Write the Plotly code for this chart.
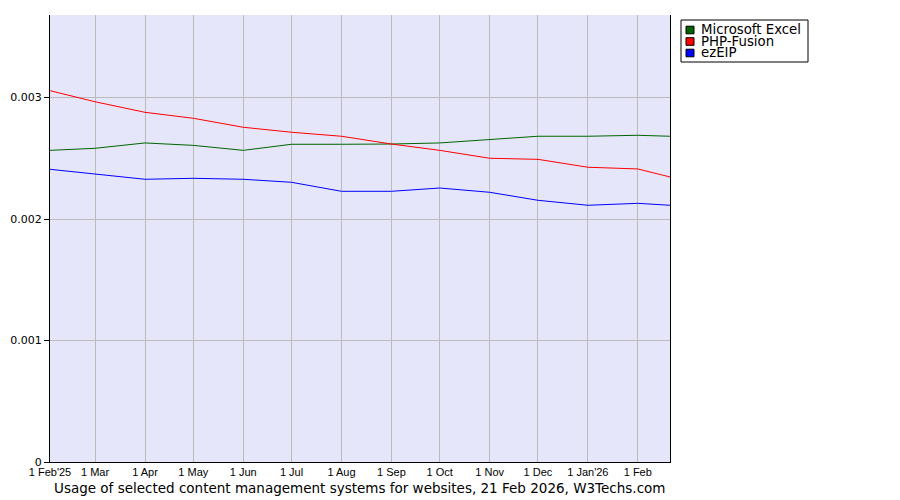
import plotly.graph_objects as go

dates = ["2025-02-01", "2025-03-01", "2025-04-01", "2025-05-01", "2025-06-01", "2025-07-01",
         "2025-08-01", "2025-09-01", "2025-10-01", "2025-11-01", "2025-12-01", "2026-01-01",
         "2026-02-01", "2026-02-21"]

excel = [0.002565, 0.002582, 0.002626, 0.002606, 0.002565, 0.002615, 0.002615,
         0.002617, 0.002626, 0.002656, 0.002681, 0.002681, 0.002689, 0.002681]
phpfusion = [0.003056, 0.002965, 0.002878, 0.002829, 0.002755, 0.002714, 0.002681,
             0.002617, 0.002565, 0.002500, 0.002491, 0.002426, 0.002412, 0.002346]
ezeip = [0.002409, 0.002368, 0.002327, 0.002335, 0.002327, 0.002302, 0.002228,
         0.002228, 0.002255, 0.002220, 0.002154, 0.002113, 0.002129, 0.002113]

series_names = ["Microsoft Excel", "PHP-Fusion", "ezEIP"]
series_colors = ["#006400", "#ff0000", "#0000ff"]

tick_dates = dates[:13]
tick_text = ["1 Feb'25", "1 Mar", "1 Apr", "1 May", "1 Jun", "1 Jul", "1 Aug", "1 Sep",
             "1 Oct", "1 Nov", "1 Dec", "1 Jan'26", "1 Feb"]
y_ticks = [0, 0.001, 0.002, 0.003]
y_text = ["0", "0.001", "0.002", "0.003"]

title_text = "Usage of selected content management systems for websites, 21 Feb 2026, W3Techs.com"

fig = go.Figure()
for name, vals, col in zip(series_names, [excel, phpfusion, ezeip], series_colors):
    fig.add_trace(go.Scatter(x=dates, y=vals, mode="lines", name=name,
                             line=dict(color=col, width=1), showlegend=False))

# page offset from default body margin
OFF = 8
FW, FH = 900 - OFF, 500 - OFF
# plot geometry (page pixels)
L, R, T, B = 50, 670, 15, 462
W, H = R - L, B - T
def px(x):
    return (x - L) / W
def py(y):
    return (B - y) / H

shapes = []
annotations = []
# legend box
shapes.append(dict(type="rect", xref="paper", yref="paper",
                   x0=px(681), x1=px(808), y0=py(62), y1=py(20),
                   line=dict(color="black", width=1), fillcolor="white", layer="above"))
for i, (name, col) in enumerate(zip(series_names, series_colors)):
    cy = 30 + i * 11.5
    shapes.append(dict(type="rect", xref="paper", yref="paper",
                       x0=px(686), x1=px(694), y0=py(cy + 3.8), y1=py(cy - 3.8),
                       line=dict(color="black", width=1), fillcolor=col, layer="above"))
    annotations.append(dict(xref="paper", yref="paper", x=px(700), y=py(cy),
                            xanchor="left", yanchor="middle", showarrow=False,
                            text=name, borderpad=0,
                            font=dict(family="DejaVu Sans", size=13.3, color="black")))

annotations.append(dict(xref="paper", yref="paper", x=px(359), y=py(488),
                        xanchor="center", yanchor="middle", showarrow=False,
                        text=title_text, font=dict(family="DejaVu Sans", size=13.5, color="black")))

fig.update_layout(
    width=FW, height=FH,
    margin=dict(l=L - OFF, r=FW - (R - OFF), t=T - OFF, b=FH - (B - OFF), pad=0,
                autoexpand=False),
    paper_bgcolor="white", plot_bgcolor="#e6e6fa",
    shapes=shapes, annotations=annotations,
    showlegend=False,
    font=dict(family="Liberation Sans", size=11, color="black"),
)
fig.update_xaxes(range=["2025-02-01", "2026-02-21"], tickmode="array",
                 tickvals=tick_dates, ticktext=tick_text,
                 showgrid=True, gridcolor="#bbbbbb", gridwidth=1,
                 showline=True, linecolor="black", linewidth=1,
                 ticks="", zeroline=False, automargin=False,
                 tickfont=dict(family="Liberation Sans", size=11, color="black"))
fig.update_yaxes(range=[0, (B - T) / 121.5 / 1000], tickmode="array",
                 tickvals=y_ticks, ticktext=y_text,
                 showgrid=True, gridcolor="#bbbbbb", gridwidth=1,
                 showline=True, linecolor="black", linewidth=1, mirror=True,
                 ticks="outside", ticklen=5, tickcolor="black", zeroline=False,
                 automargin=False,
                 tickfont=dict(family="DejaVu Sans", size=11, color="black"))

fig.write_html("out.html")
